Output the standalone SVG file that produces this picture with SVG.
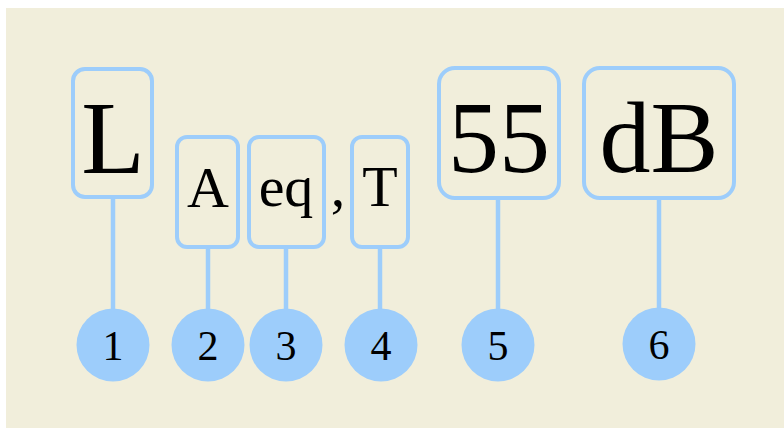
<svg xmlns="http://www.w3.org/2000/svg" width="784" height="428" viewBox="0 0 784 428">
<style>
.box{fill:none;stroke:#9dcdfb;stroke-width:4}
.ln{stroke:#9dcdfb;stroke-width:4.5;fill:none}
.dot{fill:#9dcdfb}
.t{font-family:"Liberation Serif","DejaVu Serif",serif;fill:#000;text-anchor:middle}
.n{font-family:"Liberation Serif","DejaVu Serif",serif;font-size:42px;fill:#000;text-anchor:middle}
</style>
<rect x="0" y="0" width="784" height="428" fill="#ffffff"/>
<rect x="6" y="8" width="778" height="420" fill="#f1eedb"/>
<g id="connectors">
<line class="ln" x1="113" y1="199" x2="113" y2="320"/>
<line class="ln" x1="208" y1="248" x2="208" y2="320"/>
<line class="ln" x1="286" y1="249" x2="286" y2="320"/>
<line class="ln" x1="380" y1="249" x2="380" y2="320"/>
<line class="ln" x1="498" y1="200" x2="498" y2="320"/>
<line class="ln" x1="659" y1="200" x2="659" y2="320"/>
</g>
<g id="term-L">
<rect class="box" x="73" y="69" width="79" height="128" rx="12"/>
<text class="t" x="113" y="173" font-size="104">L</text>
</g>
<g id="term-A">
<rect class="box" x="177" y="137" width="61" height="110" rx="10"/>
<text class="t" x="208" y="207" font-size="58">A</text>
</g>
<g id="term-eq">
<rect class="box" x="249" y="137" width="75" height="110" rx="10"/>
<text class="t" x="286" y="206" font-size="58">eq</text>
</g>
<text class="t" x="338" y="206" font-size="58">,</text>
<g id="term-T">
<rect class="box" x="352" y="137" width="56" height="110" rx="10"/>
<text class="t" x="380" y="206" font-size="58">T</text>
</g>
<g id="term-55">
<rect class="box" x="439" y="68" width="120" height="130" rx="16"/>
<text class="t" x="499" y="172" font-size="102">55</text>
</g>
<g id="term-dB">
<rect class="box" x="584" y="68" width="150" height="130" rx="16"/>
<text class="t" x="659" y="172" font-size="102">dB</text>
</g>
<g id="c1"><circle class="dot" cx="113" cy="345" r="36.5"/><text class="n" x="113" y="360">1</text></g>
<g id="c2"><circle class="dot" cx="208" cy="345" r="36.5"/><text class="n" x="208" y="360">2</text></g>
<g id="c3"><circle class="dot" cx="286" cy="345" r="36.5"/><text class="n" x="286" y="360">3</text></g>
<g id="c4"><circle class="dot" cx="381" cy="345" r="36.5"/><text class="n" x="381" y="360">4</text></g>
<g id="c5"><circle class="dot" cx="498" cy="345" r="36.5"/><text class="n" x="498" y="360">5</text></g>
<g id="c6"><circle class="dot" cx="659" cy="344" r="36.5"/><text class="n" x="659" y="359">6</text></g>
</svg>
